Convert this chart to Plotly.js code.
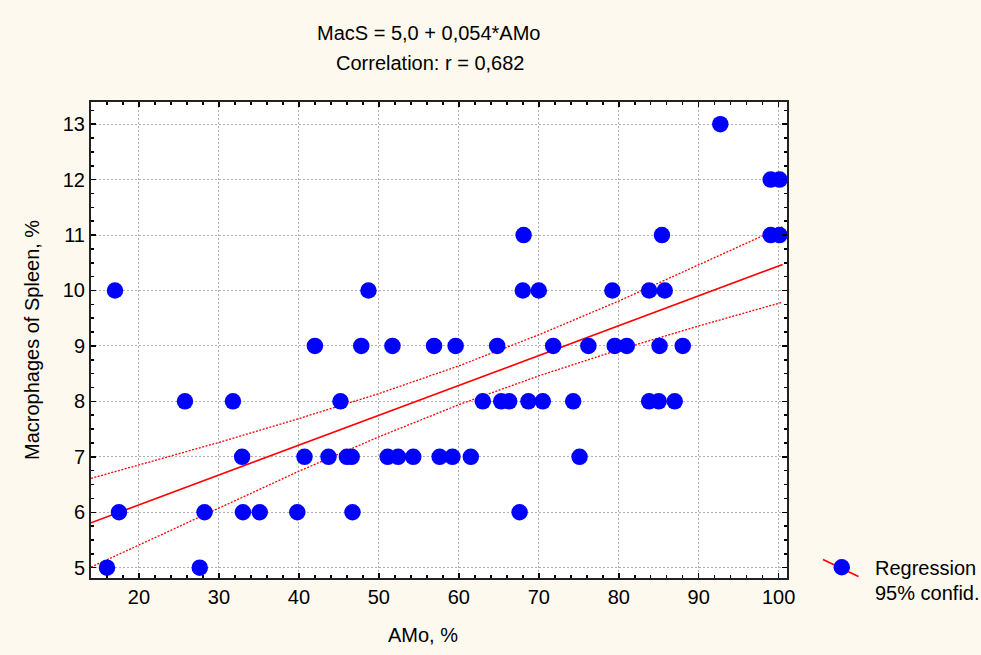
<!DOCTYPE html>
<html>
<head>
<meta charset="utf-8">
<script src="https://cdn.plot.ly/plotly-3.0.1.min.js"></script>
<style>html,body{margin:0;padding:0;background:#FDF9EE;}#chart{width:981px;height:655px;}</style>
</head>
<body>
<div id="chart"></div>
<script>
// Scatter data: AMo, % (x) vs Macrophages of Spleen, % (y)
var amo = [
  92.7,
  99.0, 100.1,
  68.1, 85.4, 99.0, 100.1,
  17.0, 48.7, 68.0, 70.0, 79.2, 83.8, 85.75,
  42.0, 47.8, 51.7, 56.9, 59.6, 64.8, 71.8, 76.2, 79.5, 81.0, 85.1, 88.0,
  25.75, 31.75, 45.2, 63.0, 65.3, 66.3, 68.7, 70.5, 74.3, 83.8, 85.0, 87.0,
  32.9, 40.7, 43.7, 46.0, 46.6, 51.1, 52.4, 54.3, 57.6, 59.2, 61.5, 75.1,
  17.5, 28.2, 33.0, 35.1, 39.8, 46.7, 67.6,
  16.0, 27.6
];
var macs = [
  13,
  12, 12,
  11, 11, 11, 11,
  10, 10, 10, 10, 10, 10, 10,
  9, 9, 9, 9, 9, 9, 9, 9, 9, 9, 9, 9,
  8, 8, 8, 8, 8, 8, 8, 8, 8, 8, 8, 8,
  7, 7, 7, 7, 7, 7, 7, 7, 7, 7, 7, 7,
  6, 6, 6, 6, 6, 6, 6,
  5, 5
];
// Regression line endpoints
var fitX = [14, 100.5];
var fitY = [5.81, 10.47];
// 95% confidence band
var bandX = [14, 20, 30, 40, 50, 60, 70, 80, 90, 100.5];
var bandUpper = [6.61, 6.85, 7.26, 7.69, 8.14, 8.64, 9.20, 9.81, 10.46, 11.15];
var bandLower = [5.01, 5.41, 6.08, 6.74, 7.36, 7.94, 8.46, 8.93, 9.36, 9.79];

var titleLine1 = 'MacS = 5,0 + 0,054*AMo';
var titleLine2 = 'Correlation: r = 0,682';
var xTitle = 'AMo, %';
var yTitle = 'Macrophages of Spleen, %';
var legendLine1 = 'Regression';
var legendLine2 = '95% confid.';

var FONT = 'Liberation Sans, Arial, sans-serif';
var FS = 20;

// paper-coordinate helpers (plot area: 91..787 x, 102..578 y)
var PL = 91, PW = 696, PT = 102, PH = 476;
function px(x) { return (x - PL) / PW; }
function py(y) { return (PT + PH - y) / PH; }

var traces = [
  {x: bandX, y: bandUpper, mode: 'lines', line: {color: '#FF0000', width: 1.3, dash: '2px,1.5px'}, showlegend: false, hoverinfo: 'skip'},
  {x: bandX, y: bandLower, mode: 'lines', line: {color: '#FF0000', width: 1.3, dash: '2px,1.5px'}, showlegend: false, hoverinfo: 'skip'},
  {x: fitX, y: fitY, mode: 'lines', line: {color: '#FF0000', width: 1.6}, showlegend: false},
  {x: amo, y: macs, mode: 'markers', marker: {color: '#0000FF', size: 16.5, line: {width: 0}}, showlegend: false, cliponaxis: false}
];

var layout = {
  width: 981, height: 655,
  paper_bgcolor: '#FDF9EE',
  plot_bgcolor: '#FFFFFF',
  margin: {l: 91, r: 194, t: 102, b: 77},
  font: {family: FONT, size: FS, color: '#000'},
  showlegend: false,
  xaxis: {
    range: [14, 101.04], tickmode: 'linear', tick0: 20, dtick: 10,
    ticks: 'inside', ticklen: 5, tickwidth: 1.5, tickcolor: '#000',
    minor: {dtick: 2, tick0: 0, ticks: 'inside', ticklen: 3, tickcolor: '#000', showgrid: false},
    showline: true, linecolor: '#222', linewidth: 2, mirror: 'allticks',
    showgrid: true, gridcolor: '#B0B0B0', griddash: '1.5px,2.5px', gridwidth: 1,
    zeroline: false, tickfont: {family: FONT, size: FS}
  },
  yaxis: {
    range: [4.814, 13.40], tickmode: 'linear', tick0: 5, dtick: 1,
    ticks: 'inside', ticklen: 5, tickwidth: 1.5, tickcolor: '#000',
    minor: {dtick: 0.25, tick0: 0, ticks: 'inside', ticklen: 3, tickcolor: '#000', showgrid: false},
    showline: true, linecolor: '#222', linewidth: 2, mirror: 'allticks',
    showgrid: true, gridcolor: '#B0B0B0', griddash: '1.5px,2.5px', gridwidth: 1,
    zeroline: false, tickfont: {family: FONT, size: FS}
  },
  shapes: [
    {type: 'line', xref: 'paper', yref: 'paper', x0: px(823), y0: py(559.5), x1: px(858.5), y1: py(576.5),
     line: {color: '#FF0000', width: 1.6}},
    {type: 'circle', xref: 'paper', yref: 'paper', x0: px(833.5), y0: py(559), x1: px(850), y1: py(575.5),
     fillcolor: '#0000FF', line: {width: 0}}
  ],
  annotations: [
    {text: titleLine1, xref: 'paper', yref: 'paper', x: px(428), y: py(33), xanchor: 'center', yanchor: 'middle', showarrow: false, font: {family: FONT, size: FS}},
    {text: titleLine2, xref: 'paper', yref: 'paper', x: px(430), y: py(63), xanchor: 'center', yanchor: 'middle', showarrow: false, font: {family: FONT, size: FS}},
    {text: xTitle, xref: 'paper', yref: 'paper', x: px(423), y: py(635), xanchor: 'center', yanchor: 'middle', showarrow: false, font: {family: FONT, size: FS}},
    {text: yTitle, xref: 'paper', yref: 'paper', x: px(32), y: py(340), xanchor: 'center', yanchor: 'middle', textangle: -90, showarrow: false, font: {family: FONT, size: FS}},
    {text: legendLine1, xref: 'paper', yref: 'paper', x: px(873), y: py(568), xanchor: 'left', yanchor: 'middle', showarrow: false, font: {family: FONT, size: FS}},
    {text: legendLine2, xref: 'paper', yref: 'paper', x: px(873), y: py(593), xanchor: 'left', yanchor: 'middle', showarrow: false, font: {family: FONT, size: FS}}
  ]
};

Plotly.newPlot('chart', traces, layout, {displayModeBar: false, staticPlot: true});
</script>
</body>
</html>
